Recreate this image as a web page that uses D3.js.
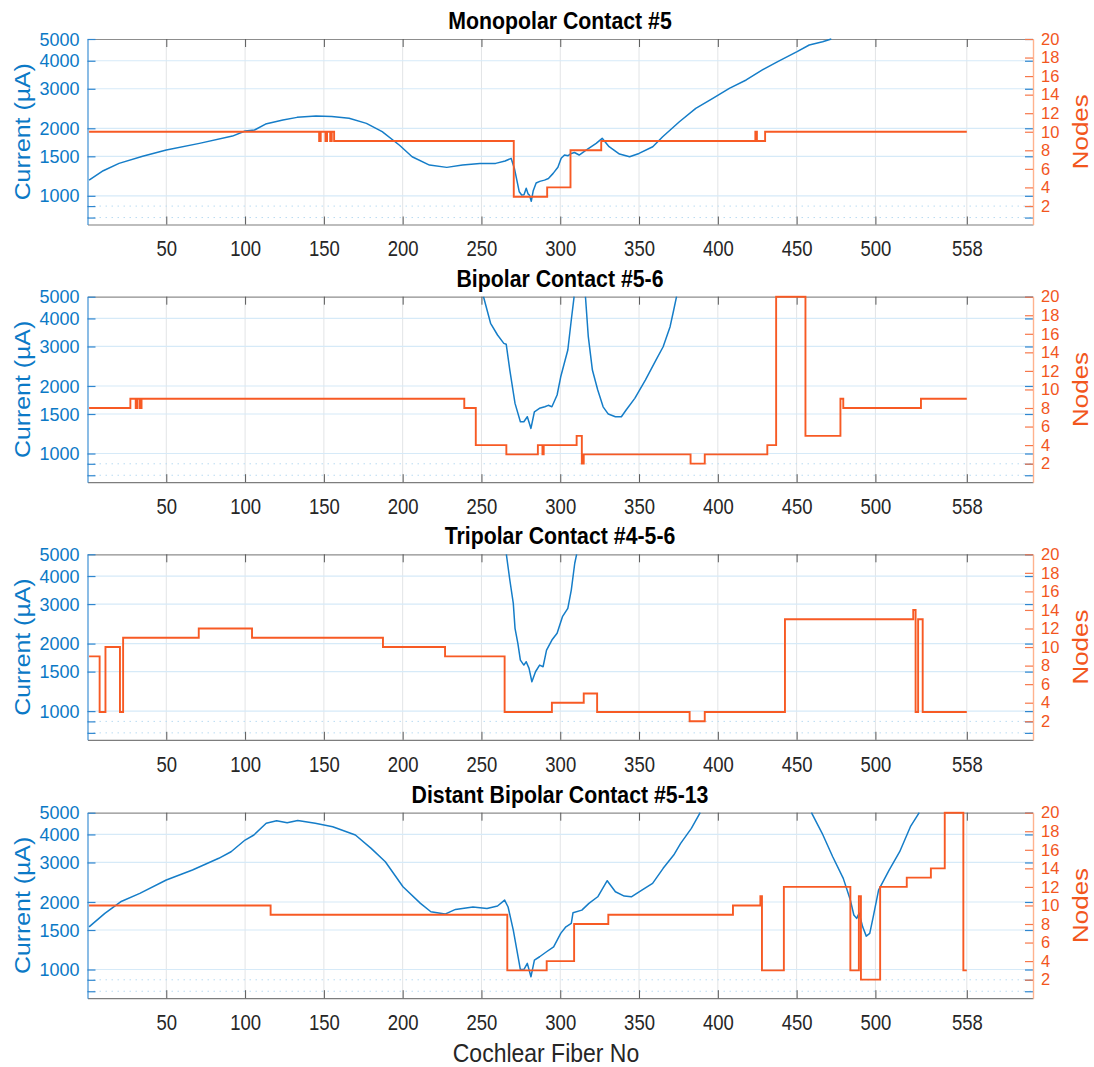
<!DOCTYPE html>
<html>
<head>
<meta charset="utf-8">
<script src="https://cdn.jsdelivr.net/npm/d3@7"></script>
<style>
  body { margin: 0; background: #fff; }
  svg { display: block; }
  text { font-family: "Liberation Sans", Arial, Helvetica, sans-serif; }
</style>
</head>
<body>
<svg id="chart" width="1094" height="1067"></svg>
<script>
// ---- axis ticks ----
const fiberTicks = [50, 100, 150, 200, 250, 300, 350, 400, 450, 500, 558];
const currentTicks = [1000, 1500, 2000, 3000, 4000, 5000];
const currentMinorTicks = [800, 900];
const nodeTicks = [2, 4, 6, 8, 10, 12, 14, 16, 18, 20];
const panelTitles = ["Monopolar Contact #5", "Bipolar Contact #5-6", "Tripolar Contact #4-5-6", "Distant Bipolar Contact #5-13"];

// ---- Monopolar contact #5 ----
const monoFiber = [1, 10, 20, 35, 50, 71, 92, 100, 106, 113, 124, 133, 145, 155, 166, 177, 187, 198, 206, 217, 228, 238, 249, 259, 265, 268.8, 271, 274, 275.5, 277, 278.4, 279.6, 280.5, 281.6, 282.8, 284.7, 287, 290, 292.5, 295.5, 298.5, 300.6, 302.7, 305, 307, 309, 312, 316.4, 322.8, 326.6, 331, 337.6, 344, 350, 358.7, 365, 375.6, 386, 396.8, 407.3, 418, 428, 438, 450.3, 458, 466.5, 472];
const monoCurrent = [1175, 1294, 1395, 1500, 1600, 1713, 1846, 1944, 1965, 2088, 2176, 2237, 2268, 2255, 2215, 2103, 1931, 1680, 1493, 1371, 1339, 1371, 1395, 1395, 1430, 1469, 1316, 1042, 1008, 1010, 1080, 1020, 1005, 945, 1050, 1140, 1160, 1175, 1195, 1259, 1340, 1469, 1520, 1510, 1545, 1560, 1520, 1600, 1713, 1804, 1655, 1535, 1493, 1545, 1655, 1834, 2138, 2455, 2719, 3013, 3283, 3636, 3962, 4391, 4700, 4860, 5000];
const monoStepFiber = [1, 147, 148, 151, 152, 154, 155, 156.5, 270.5, 291.7, 306.5, 326, 423.8, 424.8, 430, 558];
const monoNodes = [10, 9, 10, 9, 10, 9, 10, 9, 3, 4, 8, 9, 10, 9, 10, 10];

// ---- Bipolar contact #5-6 ----
const bipFiber = [251.3, 255.8, 260.2, 264.2, 265.7, 268, 271.3, 274.7, 276.9, 279.1, 281.4, 283.6, 286.8, 290.2, 292.4, 294.7, 298, 300.3, 304.8, 307, 308.8, 312, 316, 317.8, 320.4, 323.8, 327.2, 330.5, 335, 338.8, 341.8, 347.3, 354, 360.8, 365.3, 369.7, 372, 373.8];
const bipCurrent = [5000, 3806, 3375, 3098, 3070, 2355, 1673, 1385, 1385, 1459, 1294, 1535, 1590, 1615, 1640, 1615, 1823, 2198, 2893, 3936, 5000, null, 5000, 3316, 2355, 1918, 1615, 1499, 1459, 1459, 1563, 1762, 2126, 2612, 2992, 3676, 4362, 5000];
const bipStepFiber = [1, 27.2, 30.6, 31.7, 33.2, 34.3, 239.1, 246.4, 265.8, 285.8, 288.7, 289.5, 310.4, 313.7, 314.9, 382.7, 391.7, 431.4, 437, 455.6, 477.8, 479.6, 528.9, 558];
const bipNodes = [8, 9, 8, 9, 8, 9, 8, 4, 3, 4, 3, 4, 5, 2, 3, 2, 3, 4, 20, 5, 9, 8, 9, 9];

// ---- Tripolar contact #4-5-6 ----
const triFiber = [265.8, 268, 270.2, 271.3, 273.1, 274.7, 276.9, 278.4, 280.2, 282, 284.3, 286.9, 289.1, 291.3, 294.7, 298, 301.4, 304.8, 307, 309.2, 310.4];
const triCurrent = [5000, 3840, 3022, 2338, 2004, 1688, 1604, 1660, 1550, 1352, 1498, 1604, 1577, 1871, 2074, 2222, 2636, 2872, 3465, 4560, 5000];
const triStepFiber = [1, 7.7, 11.4, 20.6, 22.6, 70.6, 104.4, 187.5, 226.9, 264.7, 294.7, 314.9, 323.4, 382.1, 391.7, 442.6, 524, 525.5, 527.1, 530, 558];
const triNodes = [9, 3, 10, 3, 11, 12, 11, 10, 9, 3, 4, 5, 3, 2, 3, 13, 14, 3, 13, 3, 3];

// ---- Distant bipolar contact #5-13 ----
const distFiber = [1, 11, 21, 33.2, 50, 66.6, 83.3, 91.1, 100, 105.6, 113.4, 120, 126.7, 133.4, 144.5, 155.6, 170, 180, 189, 200.2, 211.3, 217.9, 226.9, 233.5, 244.6, 253.5, 260.2, 264.7, 266.9, 270.2, 274.7, 276.9, 279.1, 281.4, 283.6, 286.9, 291.3, 295.8, 300.3, 303.6, 307, 308.1, 313.7, 318.2, 323.8, 329.8, 335, 340.6, 345.1, 351.8, 358.6, 365.3, 372, 376.4, 383.2, 388.8, 420, 459.4, 466.2, 472.9, 479.6, 484.1, 486.3, 488.1, 489.7, 491.9, 494.2, 496.4, 498.6, 502, 508.7, 515.4, 522.2, 527.8];
const distCurrent = [1550, 1779, 2004, 2185, 2506, 2776, 3131, 3350, 3777, 3978, 4484, 4606, 4512, 4620, 4484, 4330, 3978, 3467, 3023, 2338, 1972, 1809, 1766, 1853, 1900, 1870, 1920, 2040, 1900, 1499, 1000, 1000, 1065, 928, 1102, 1140, 1200, 1262, 1449, 1550, 1605, 1791, 1840, 1972, 2110, 2488, 2222, 2125, 2110, 2261, 2421, 2825, 3238, 3651, 4259, 5000, null, 5000, 4047, 3182, 2548, 2040, 1750, 1690, 1783, 1550, 1409, 1449, 1718, 2261, 2776, 3350, 4330, 5000];
const distStepFiber = [1, 116.2, 266.4, 291.4, 308.8, 330.5, 409.6, 427, 428, 441.9, 484.1, 489.5, 490.8, 503, 519.9, 535.2, 544, 555.8, 558];
const distNodes = [10, 9, 3, 4, 8, 9, 10, 11, 3, 12, 3, 11, 2, 12, 13, 14, 20, 3, 3];

// ---- styling ----
const BLUE = "#157dc8";
const BLUE_TEXT = "#0b79c6";
const ORANGE = "#f75a24";
const ORANGE_TEXT = "#f2561d";
const TICK_GRAY = "#262626";

const panels = [
  { title: panelTitles[0], fiber: monoFiber, current: monoCurrent, stepFiber: monoStepFiber, nodes: monoNodes },
  { title: panelTitles[1], fiber: bipFiber, current: bipCurrent, stepFiber: bipStepFiber, nodes: bipNodes },
  { title: panelTitles[2], fiber: triFiber, current: triCurrent, stepFiber: triStepFiber, nodes: triNodes },
  { title: panelTitles[3], fiber: distFiber, current: distCurrent, stepFiber: distStepFiber, nodes: distNodes }
];

const svg = d3.select("#chart");
svg.append("rect").attr("width", 1094).attr("height", 1067).attr("fill", "#fff");

const plotLeft = 87.5, plotRight = 1033;
const panelTops = [39, 296.7, 554.3, 812.7];
const panelH = 185.5;

const x = d3.scaleLinear().domain([0, 600]).range([plotLeft, plotRight]);

panels.forEach((p, i) => {
  const top = panelTops[i], bottom = top + panelH;
  const yCur = d3.scaleLog().domain([745, 5000]).range([bottom, top]);
  const yNodes = d3.scaleLinear().domain([0, 20]).range([bottom, top]);

  const g = svg.append("g");
  const clipId = "clip" + i;
  g.append("clipPath").attr("id", clipId)
    .append("rect").attr("x", plotLeft - 1).attr("y", top - 1.5)
    .attr("width", plotRight - plotLeft + 2).attr("height", panelH + 3);

  // vertical grid
  g.append("g").selectAll("line").data(fiberTicks).join("line")
    .attr("x1", d => x(d)).attr("x2", d => x(d))
    .attr("y1", top).attr("y2", bottom)
    .attr("stroke", "#e2e4e6").attr("stroke-width", 1);
  // horizontal grid (current axis)
  g.append("g").selectAll("line").data(currentTicks.filter(d => d < 5000)).join("line")
    .attr("x1", plotLeft).attr("x2", plotRight)
    .attr("y1", d => yCur(d)).attr("y2", d => yCur(d))
    .attr("stroke", "#d6eaf8").attr("stroke-width", 1.2);
  g.append("g").selectAll("line").data(currentMinorTicks).join("line")
    .attr("x1", plotLeft).attr("x2", plotRight)
    .attr("y1", d => yCur(d)).attr("y2", d => yCur(d))
    .attr("stroke", "#b9dbf2").attr("stroke-width", 1)
    .attr("stroke-dasharray", "1.5,4.5");

  // top and bottom fiber axes
  const xBottom = g.append("g").attr("transform", `translate(0,${bottom})`)
    .call(d3.axisBottom(x).tickValues(fiberTicks).tickSize(-8).tickSizeOuter(0).tickPadding(13).tickFormat(d3.format("d")));
  xBottom.select(".domain").attr("stroke", "#7d7d7d").attr("stroke-width", 1.2);
  xBottom.selectAll(".tick line").attr("stroke", "#5a5a5a");
  xBottom.selectAll(".tick text")
    .attr("fill", TICK_GRAY).attr("font-size", 18.5)
    .attr("transform", "scale(1,1.22)");

  const xTop = g.append("g").attr("transform", `translate(0,${top})`)
    .call(d3.axisTop(x).tickValues(fiberTicks).tickSize(-8).tickSizeOuter(0).tickFormat(""));
  xTop.select(".domain").attr("stroke", "#8d8d8d").attr("stroke-width", 1.2);
  xTop.selectAll(".tick line").attr("stroke", "#5a5a5a");

  // left current axis
  const yLeft = g.append("g").attr("transform", `translate(${plotLeft},0)`)
    .call(d3.axisLeft(yCur).tickValues(currentTicks.concat(currentMinorTicks))
      .tickSize(-8).tickSizeOuter(0).tickPadding(8)
      .tickFormat(d => currentTicks.includes(d) ? d3.format("d")(d) : ""));
  yLeft.select(".domain").attr("stroke", "#3f90d4").attr("stroke-width", 1.2);
  yLeft.selectAll(".tick line").attr("stroke", "#2f86cf").attr("stroke-width", 1.2);
  yLeft.selectAll(".tick text")
    .attr("fill", BLUE_TEXT).attr("font-size", 18)
    .attr("transform", "scale(1,1.05)");

  // right nodes axis, with current ticks mirrored
  const yRightMirror = g.append("g").attr("transform", `translate(${plotRight},0)`)
    .call(d3.axisRight(yCur).tickValues(currentTicks.concat(currentMinorTicks))
      .tickSize(-8).tickSizeOuter(0).tickFormat(""));
  yRightMirror.select(".domain").remove();
  yRightMirror.selectAll(".tick line").attr("stroke", "#2f86cf").attr("stroke-width", 1.2);

  const yRight = g.append("g").attr("transform", `translate(${plotRight},0)`)
    .call(d3.axisRight(yNodes).tickValues(nodeTicks)
      .tickSize(-8).tickSizeOuter(0).tickPadding(8).tickFormat(d3.format("d")));
  yRight.select(".domain").attr("stroke", "#ffb28e").attr("stroke-width", 1.4);
  yRight.selectAll(".tick line").attr("stroke", "#f6774a").attr("stroke-width", 1.2);
  yRight.selectAll(".tick text")
    .attr("fill", ORANGE_TEXT).attr("font-size", 16.5);

  // data lines
  const curPts = p.fiber.map((f, k) => [f, p.current[k]]);
  const nodePts = p.stepFiber.map((f, k) => [f, p.nodes[k]]);
  const plot = g.append("g").attr("clip-path", `url(#${clipId})`);

  plot.append("path").datum(curPts)
    .attr("fill", "none").attr("stroke", BLUE).attr("stroke-width", 1.5)
    .attr("stroke-linejoin", "round")
    .attr("d", d3.line().defined(d => d[1] != null)
      .x(d => x(d[0])).y(d => yCur(d[1])));

  plot.append("path").datum(nodePts)
    .attr("fill", "none").attr("stroke", ORANGE).attr("stroke-width", 1.9)
    .attr("d", d3.line().curve(d3.curveStepAfter)
      .x(d => x(d[0])).y(d => yNodes(d[1])));

  // title
  g.append("text")
    .attr("transform", `translate(560,${top - 10}) scale(1,1.15)`)
    .attr("text-anchor", "middle").attr("font-weight", "bold")
    .attr("font-size", 21.3).attr("fill", "#000")
    .text(p.title);

  // axis titles
  g.append("text")
    .attr("transform", `translate(29.5,${top + panelH / 2}) rotate(-90) scale(1.13,1)`)
    .attr("text-anchor", "middle").attr("font-size", 22).attr("fill", BLUE_TEXT)
    .text("Current (µA)");
  g.append("text")
    .attr("transform", `translate(1088,${top + panelH / 2}) rotate(-90) scale(1.18,1)`)
    .attr("text-anchor", "middle").attr("font-size", 22).attr("fill", ORANGE_TEXT)
    .text("Nodes");
});

svg.append("text")
  .attr("transform", "translate(546,1061.5) scale(1,1.1)")
  .attr("text-anchor", "middle").attr("font-size", 23).attr("fill", "#262626")
  .text("Cochlear Fiber No");
</script>
</body>
</html>
